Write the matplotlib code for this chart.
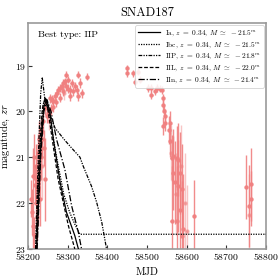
import matplotlib
matplotlib.use("Agg")
import matplotlib.pyplot as plt

plt.rcParams['font.family'] = 'serif'
plt.rcParams['font.serif'] = ['cmr10', 'DejaVu Serif']
plt.rcParams['mathtext.fontset'] = 'cm'
plt.rcParams['axes.formatter.use_mathtext'] = True
plt.rcParams['axes.unicode_minus'] = True

# Observations (zr band)
obs_mjd = [58208, 58210, 58212, 58213, 58215, 58216, 58218, 58219, 58220, 58222,
           58224, 58225, 58227, 58228, 58230, 58232, 58234, 58236, 58238, 58240, 58243,
           58243, 58248, 58251, 58255, 58258, 58260, 58264, 58268, 58272, 58276, 58281,
           58285, 58289, 58289, 58293, 58297, 58297, 58302, 58306, 58306, 58310, 58314,
           58323, 58327, 58327, 58331, 58335, 58348, 58262, 58270, 58280, 58300, 58318,
           58449, 58449, 58465, 58470, 58478, 58482, 58503, 58511, 58511, 58520, 58524,
           58532, 58537, 58541, 58541, 58543, 58545, 58545, 58541, 58558, 58556, 58558,
           58562, 58566, 58575, 58579, 58566, 58570, 58579, 58583, 58587, 58562, 58575,
           58583, 58587, 58591, 58618, 58749, 58757, 58762, 58762]
obs_mag = [21.9, 22.2, 21.4, 22.5, 21.0, 22.7, 21.6, 22.0, 21.2, 22.3,
           20.9, 21.7, 20.6, 21.3, 21.9, 20.4, 21.0, 20.6, 20.2, 20.8, 21.48,
           19.92, 20.1, 20.03, 19.71, 19.95, 19.74, 19.78, 19.67, 19.6, 19.53, 19.49,
           19.45, 19.38, 19.56, 19.34, 19.2, 19.45, 19.31, 19.53, 19.67, 19.38, 19.56,
           19.53, 19.2, 19.67, 19.38, 19.6, 19.24, 19.9, 19.8, 19.7, 19.5, 19.45,
           19.06, 19.17, 19.17, 19.35, 19.13, 19.31, 19.49, 19.49, 19.64, 19.56, 19.49,
           19.5, 19.53, 19.71, 19.85, 19.99, 20.1, 20.25, 20.32, 20.25, 20.4, 20.65,
           21.01, 20.98, 21.01, 21.05, 21.34, 21.55, 21.63, 21.34, 21.7, 22.39, 22.39,
           22.14, 22.71, 22.57, 22.29, 21.65, 22.06, 21.59, 21.9]
obs_err = [0.4, 0.5, 0.6, 0.5, 0.5, 0.4, 0.4, 0.6, 0.5, 0.5,
           0.4, 0.8, 0.4, 0.5, 0.6, 0.3, 0.5, 0.4, 0.3, 0.4, 0.9,
           0.15, 0.15, 0.12, 0.1, 0.12, 0.1, 0.1, 0.1, 0.08, 0.08, 0.08,
           0.08, 0.08, 0.1, 0.08, 0.08, 0.1, 0.08, 0.1, 0.1, 0.08, 0.1,
           0.1, 0.08, 0.1, 0.1, 0.1, 0.08, 0.12, 0.1, 0.1, 0.1, 0.1,
           0.07, 0.07, 0.07, 0.08, 0.07, 0.08, 0.08, 0.08, 0.08, 0.08, 0.08,
           0.08, 0.08, 0.1, 0.12, 0.12, 0.15, 0.18, 0.2, 0.25, 0.3, 0.35,
           0.5, 0.6, 0.7, 0.8, 0.8, 0.9, 1.0, 0.9, 1.0, 1.2, 1.2,
           1.1, 1.2, 1.2, 0.8, 0.7, 0.9, 0.8, 0.6]

# Lower-quality observations (lighter)
faint_mjd = [58222, 58235, 58253, 58290, 58560, 58572, 58585, 58596, 58600, 58757]
faint_mag = [21.5, 21.2, 20.2, 19.6, 20.9, 21.8, 21.2, 22.0, 22.6, 22.26]
faint_err = [0.8, 0.7, 0.2, 0.15, 0.6, 0.9, 0.9, 1.1, 1.0, 0.9]

# Model light curves
ia_mjd = [58222, 58232, 58240, 58247, 58255, 58264, 58281, 58297, 58318, 58327]
ia_mag = [23.0, 20.8, 19.9, 19.74, 20.0, 20.61, 21.55, 22.2, 22.71, 23.0]
ibc_mjd = [58221, 58230, 58238, 58245, 58255, 58270, 58290, 58305, 58318, 58331, 58800]
ibc_mag = [23.0, 20.8, 19.85, 19.72, 20.1, 20.9, 21.8, 22.2, 22.46, 22.68, 22.68]
iip_mjd = [58219, 58226, 58232, 58236, 58242, 58252, 58268, 58290, 58306, 58331,
           58339, 58360, 58373, 58386, 58398]
iip_mag = [23.0, 21.0, 19.6, 19.27, 19.7, 20.0, 20.36, 20.6, 20.76, 21.0,
           21.19, 21.63, 21.98, 22.42, 23.0]
iil_mjd = [58220, 58228, 58236, 58243, 58250, 58261, 58276, 58302, 58318]
iil_mag = [23.0, 21.0, 19.95, 19.7, 19.95, 20.6, 21.48, 22.5, 23.0]
iin_mjd = [58223, 58232, 58240, 58248, 58258, 58272, 58293, 58310, 58327, 58335]
iin_mag = [23.0, 21.0, 20.0, 19.75, 20.0, 20.61, 21.27, 22.06, 22.64, 23.0]

labels = [r'Ia, $z\ =\ 0.34$, $M\ \simeq\ -21.5^m$',
          r'Ibc, $z\ =\ 0.34$, $M\ \simeq\ -21.5^m$',
          r'IIP, $z\ =\ 0.34$, $M\ \simeq\ -21.8^m$',
          r'IIL, $z\ =\ 0.34$, $M\ \simeq\ -22.0^m$',
          r'IIn, $z\ =\ 0.34$, $M\ \simeq\ -21.4^m$']

fig = plt.figure(figsize=(2.8, 2.8), dpi=100)
ax = fig.add_axes([0.1, 0.111, 0.85, 0.807])

ax.errorbar(obs_mjd, obs_mag, yerr=obs_err, xerr=3, fmt='o', ms=2.2,
            color='#f08080', elinewidth=1.0, capsize=0, alpha=0.9, zorder=1)
ax.errorbar(faint_mjd, faint_mag, yerr=faint_err, xerr=3, fmt='o', ms=2.2,
            color='#f08080', elinewidth=1.0, capsize=0, alpha=0.45, zorder=1)

lw = 0.9
ax.plot(ia_mjd, ia_mag, color='k', lw=lw, ls='-', label=labels[0], zorder=3)
ax.plot(ibc_mjd, ibc_mag, color='k', lw=lw, ls=(0, (1, 1)), label=labels[1], zorder=3)
ax.plot(iip_mjd, iip_mag, color='k', lw=lw, ls=(0, (3, 1, 1, 1, 1, 1)), label=labels[2], zorder=3)
ax.plot(iil_mjd, iil_mag, color='k', lw=lw, ls=(0, (3, 1.5)), label=labels[3], zorder=3)
ax.plot(iin_mjd, iin_mag, color='k', lw=lw, ls=(0, (5, 1.5, 1, 1.5)), label=labels[4], zorder=3)

ax.set_xlim(58200, 58800)
ax.set_ylim(23, 18.07)
ax.set_xticks([58200, 58300, 58400, 58500, 58600, 58700, 58800])
ax.set_yticks([19, 20, 21, 22, 23])
ax.tick_params(direction='in', labelsize=7, length=3, width=0.8, pad=1.5, color='#333333')
for s in ax.spines.values():
    s.set_color('#999999')
    s.set_linewidth(1.2)

ax.set_xlabel('MJD', fontsize=7.5, labelpad=4)
ax.set_ylabel(r'magnitude, $zr$', fontsize=7.5)
ax.yaxis.set_label_coords(-0.066, 0.5)
ax.set_title('SNAD187', fontsize=9, pad=5)
ax.text(0.04, 0.965, 'Best type: IIP', transform=ax.transAxes, fontsize=7,
        va='top', ha='left')

leg = ax.legend(loc='upper right', fontsize=5.3, handlelength=3.0, borderaxespad=0.3,
                labelspacing=0.3, handletextpad=0.6, framealpha=0.85, borderpad=0.4)
leg.get_frame().set_linewidth(0.6)

fig.savefig('out.png', dpi=100)
